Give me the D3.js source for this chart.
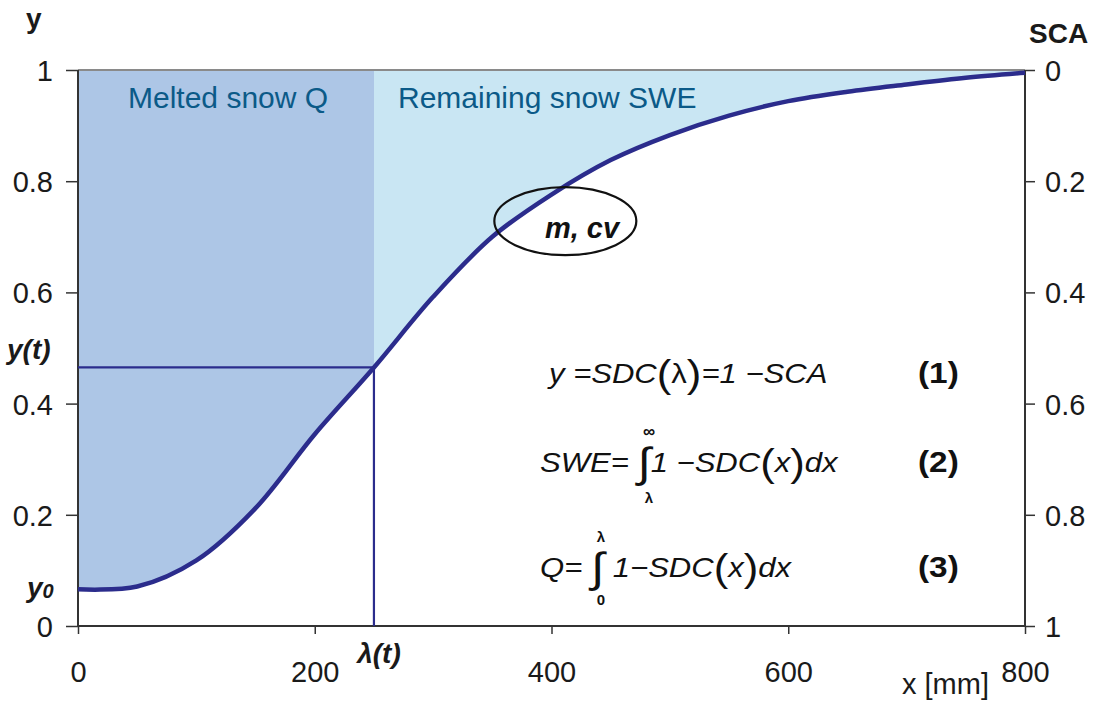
<!DOCTYPE html>
<html><head><meta charset="utf-8">
<script src="https://cdn.jsdelivr.net/npm/d3@7"></script>
<style>
body{margin:0;background:#fff;}
svg{font-family:"Liberation Sans",Arial,sans-serif;}
</style></head>
<body>
<svg id="chart" width="1095" height="702"></svg>
<script>
// ---- data ----
const xValues = [0,50,100,150,200,250,300,350,400,450,500,550,600,650,700,750,800];
const sdcValues = [0.066,0.071,0.118,0.212,0.345,0.465,0.592,0.700,0.776,0.838,0.883,0.918,0.944,0.961,0.974,0.986,0.995];
const xTicks = [0,200,400,600,800];
const yTicks = [0,0.2,0.4,0.6,0.8,1];
const scaTickLabels = ["1","0.8","0.6","0.4","0.2","0"];
const lambdaT = 250;
const yT = 0.465;
const y0 = 0.066;

const svg = d3.select("#chart");
const pLeft = 78, pRight = 1025, pTop = 70, pBottom = 626;
const x = d3.scaleLinear().domain([0,800]).range([pLeft,pRight]);
const y = d3.scaleLinear().domain([0,1]).range([pBottom,pTop]);
const sca = d3.scaleLinear().domain([1,0]).range([pBottom,pTop]);

const pts = xValues.map((v,i)=>({x:v,y:sdcValues[i]}));
const curve = d3.curveCatmullRom.alpha(0.5);
const darkBlue = "#2b2c8c";
const ink = "#1a1a1a";

// areas above the curve
const areaAbove = d3.area().x(d=>x(d.x)).y0(y(1)).y1(d=>y(d.y)).curve(curve);
svg.append("path").datum(pts).attr("d",areaAbove).attr("fill","#c9e6f3");
svg.append("clipPath").attr("id","meltClip").append("rect")
  .attr("x",x(0)).attr("y",y(1)).attr("width",x(lambdaT)-x(0)).attr("height",y(0)-y(1));
svg.append("path").datum(pts).attr("d",areaAbove).attr("fill","#adc6e6").attr("clip-path","url(#meltClip)");

// frame line (top)
svg.append("line").attr("x1",x(0)).attr("x2",x(800)).attr("y1",y(1)).attr("y2",y(1)).attr("stroke","#8a8a8a").attr("stroke-width",2);

// axes
const fs = 29;
const gL = svg.append("g").attr("transform",`translate(${pLeft},0)`)
  .call(d3.axisLeft(y).tickValues(yTicks).tickFormat(d=>d===0||d===1?d3.format("d")(d):d3.format(".1f")(d)).tickSize(12).tickPadding(13));
const gR = svg.append("g").attr("transform",`translate(${pRight},0)`)
  .call(d3.axisRight(sca).tickValues(yTicks).tickFormat(d=>scaTickLabels[5-Math.round(d*5)]).tickSize(10).tickPadding(10));
const gB = svg.append("g").attr("transform",`translate(0,${pBottom})`)
  .call(d3.axisBottom(x).tickValues(xTicks).tickSize(8).tickPadding(27));
[gL,gR,gB].forEach(g=>{
  g.select(".domain").attr("stroke","#333").attr("stroke-width",2);
  g.selectAll(".tick line").attr("stroke","#333").attr("stroke-width",1.5);
  g.selectAll(".tick text").attr("font-size",fs).attr("fill",ink).attr("font-family","Liberation Sans, Arial, sans-serif");
});
gL.selectAll(".tick text").attr("dy","0.36em");
gR.selectAll(".tick text").attr("dy","0.36em");
gB.select(".domain").attr("d",`M${pLeft},0H${pRight}`);
gL.select(".domain").attr("d",`M0,${pTop}V${pBottom}`);
gR.select(".domain").attr("d",`M0,${pTop}V${pBottom}`);

// lambda lines
svg.append("line").attr("x1",x(0)).attr("x2",x(lambdaT)).attr("y1",y(yT)).attr("y2",y(yT)).attr("stroke",darkBlue).attr("stroke-width",2.2);
svg.append("line").attr("x1",x(lambdaT)).attr("x2",x(lambdaT)).attr("y1",y(yT)).attr("y2",y(0)).attr("stroke",darkBlue).attr("stroke-width",2.2);

// curve
svg.append("path").datum(pts).attr("d",d3.line().x(d=>x(d.x)).y(d=>y(d.y)).curve(curve))
  .attr("fill","none").attr("stroke",darkBlue).attr("stroke-width",4.5);

// region labels
svg.append("text").attr("x",128).attr("y",108).attr("font-size",30).attr("fill","#0b5a88").text("Melted snow Q");
svg.append("text").attr("x",398).attr("y",108).attr("font-size",30).attr("fill","#0b5a88").text("Remaining snow SWE");

// axis titles
svg.append("text").attr("x",26).attr("y",28).attr("font-size",28).attr("font-weight","bold").attr("fill",ink).text("y");
svg.append("text").attr("x",1029).attr("y",43).attr("font-size",28).attr("font-weight","bold").attr("fill",ink).text("SCA");
svg.append("text").attr("x",902).attr("y",694).attr("font-size",29).attr("fill",ink).text("x [mm]");

// special labels
svg.append("text").attr("x",7).attr("y",y(yT)-8).attr("font-size",28).attr("font-weight","bold").attr("font-style","italic").attr("fill",ink).text("y(t)");
const y0t = svg.append("text").attr("x",27).attr("y",y(y0)+8).attr("font-size",28).attr("font-weight","bold").attr("font-style","italic").attr("fill",ink);
y0t.append("tspan").text("y");
y0t.append("tspan").attr("font-size",20).attr("dy",1).text("0");
svg.append("text").attr("x",x(lambdaT)+5).attr("y",663).attr("text-anchor","middle").attr("font-size",28).attr("font-weight","bold").attr("font-style","italic").attr("fill",ink).text("λ(t)");

// ellipse
svg.append("ellipse").attr("cx",x(410)+2).attr("cy",y(0.73)+1).attr("rx",71).attr("ry",34)
  .attr("fill","none").attr("stroke","#111").attr("stroke-width",2.2);
svg.append("text").attr("x",582).attr("y",238).attr("text-anchor","middle").attr("font-size",29).attr("font-weight","bold").attr("font-style","italic").attr("fill","#111").text("m, cv");

// equations (horizontally stretched like the reference)
function eq(xp, yp, parts){
  const g = svg.append("g").attr("transform",`translate(${xp},${yp}) scale(1.15,1)`);
  const t = g.append("text").attr("x",0).attr("y",0).attr("font-size",27).attr("font-style","italic").attr("fill","#111");
  parts.forEach(p=>{
    const s = t.append("tspan").text(p.t);
    if(p.fs) s.attr("font-size",p.fs);
    if(p.dy) s.attr("dy",p.dy);
    if(p.ns) s.attr("font-style","normal");
  });
  return g;
}
eq(549,383,[{t:"y =SDC"},{t:"(",fs:38,ns:1,dy:4},{t:"λ",ns:1,dy:-4},{t:")",fs:38,ns:1,dy:4},{t:"=1 −SCA",dy:-4}]);
eq(540,472,[{t:"SWE= "},{t:"∫",fs:42,ns:1,dy:5},{t:"1 −SDC",dy:-5},{t:"(",fs:38,ns:1,dy:4},{t:"x",dy:-4},{t:")",fs:38,ns:1,dy:4},{t:"dx",dy:-4}]);
eq(540,577,[{t:"Q= "},{t:"∫",fs:42,ns:1,dy:5},{t:" 1−SDC",dy:-5},{t:"(",fs:38,ns:1,dy:4},{t:"x",dy:-4},{t:")",fs:38,ns:1,dy:4},{t:"dx",dy:-4}]);
// integral limits
svg.append("text").attr("x",649).attr("y",437).attr("text-anchor","middle").attr("font-size",17).attr("font-weight","bold").attr("fill","#111").text("∞");
svg.append("text").attr("x",649).attr("y",503).attr("text-anchor","middle").attr("font-size",15).attr("font-weight","bold").attr("fill","#111").text("λ");
svg.append("text").attr("x",601).attr("y",542).attr("text-anchor","middle").attr("font-size",15).attr("font-weight","bold").attr("fill","#111").text("λ");
svg.append("text").attr("x",601).attr("y",605).attr("text-anchor","middle").attr("font-size",15).attr("font-weight","bold").attr("fill","#111").text("0");
["(1)","(2)","(3)"].forEach((s,i)=>{
  svg.append("g").attr("transform",`translate(918,${[383,472,577][i]}) scale(1.15,1)`)
    .append("text").attr("font-size",29).attr("font-weight","bold").attr("fill","#111").text(s);
});
</script>
</body></html>
